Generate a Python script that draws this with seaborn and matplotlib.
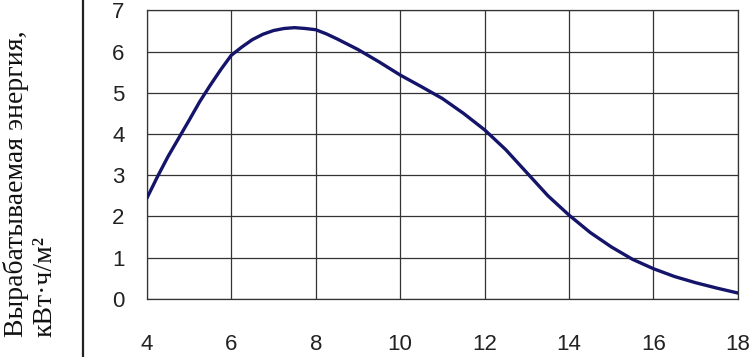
import matplotlib
matplotlib.use("Agg")
import matplotlib.pyplot as plt
from matplotlib.lines import Line2D
import pandas as pd
import seaborn as sns

# Hours of the day and generated energy
hours = [4, 4.25, 4.5, 4.75, 5, 5.25, 5.5, 5.75, 6, 6.25, 6.5, 6.75, 7, 7.25,
         7.5, 7.75, 8, 8.25, 8.5, 9, 9.5, 10, 10.5, 11, 11.5, 12, 12.5, 13,
         13.5, 14, 14.5, 15, 15.5, 16, 16.5, 17, 17.5, 18]
energy = [2.44, 2.96, 3.45, 3.89, 4.33, 4.78, 5.18, 5.56, 5.91, 6.11, 6.29,
          6.42, 6.51, 6.56, 6.58, 6.56, 6.53, 6.43, 6.31, 6.05, 5.75, 5.43,
          5.15, 4.86, 4.5, 4.1, 3.62, 3.06, 2.5, 2.03, 1.61, 1.26, 0.96,
          0.73, 0.54, 0.39, 0.26, 0.14]
x_ticks = [4, 6, 8, 10, 12, 14, 16, 18]
y_ticks = [0, 1, 2, 3, 4, 5, 6, 7]
y_label = "Вырабатываемая энергия,\nкВт·ч/м²"

sns.set_theme(style="white")
plt.rcParams["font.family"] = ["Liberation Sans", "DejaVu Sans"]

df = pd.DataFrame({"hour": hours, "energy": energy})

fig = plt.figure(figsize=(7.53, 3.57), dpi=100)
ax = fig.add_axes([0.195, 0.163, 0.785, 0.808])

sns.lineplot(data=df, x="hour", y="energy", ax=ax, color="#14146a",
             linewidth=2.4, zorder=3, solid_joinstyle="round",
             solid_capstyle="round")

ax.set_xlim(4, 18)
ax.set_ylim(0, 7)
ax.set_xticks(x_ticks)
ax.set_yticks(y_ticks)
ax.grid(True, color="#333333", linewidth=0.9)
for s in ax.spines.values():
    s.set_color("#333333")
    s.set_linewidth(0.9)
ax.tick_params(axis="both", length=0, labelsize=16, colors="#222222")
ax.tick_params(axis="x", pad=25)
ax.tick_params(axis="y", pad=16)
ax.set_xlabel("")
ax.set_ylabel("")

# vertical separator line on the left
fig.add_artist(Line2D([0.110, 0.110], [0, 1], transform=fig.transFigure,
                      color="#222222", linewidth=1.6))

fig.text(0.040, 0.485, y_label, rotation=90, ha="center", va="center",
         multialignment="left", fontsize=20,
         family=["Liberation Serif", "DejaVu Serif"],
         linespacing=1.15, color="#111111")

fig.savefig("out.png", dpi=100)
